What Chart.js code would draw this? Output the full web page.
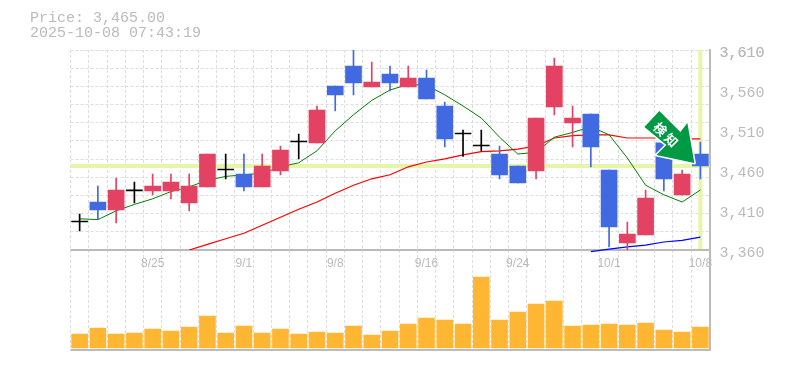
<!DOCTYPE html>
<html>
<head>
<meta charset="utf-8">
<title>Price chart</title>
<script src="https://cdn.jsdelivr.net/npm/chart.js@4/dist/chart.umd.min.js"></script>
<style>
  html, body { margin: 0; padding: 0; background: #fff; }
  #wrap { position: relative; width: 785px; height: 370px; overflow: hidden; }
  #head { position: absolute; left: 30px; top: 11px; font: 15px/15px "Liberation Mono", monospace; color: #bbb; white-space: pre; }
</style>
</head>
<body>
<div id="wrap">
  <div id="head">Price: 3,465.00
2025-10-08 07:43:19</div>
  <canvas id="priceChart" width="785" height="370"></canvas>
</div>
<script>
const dates = ['8/19','8/20','8/21','8/22','8/25','8/26','8/27','8/28','8/29','9/1','9/2','9/3','9/4','9/5','9/8','9/9','9/10','9/11','9/12','9/16','9/17','9/18','9/19','9/22','9/24','9/25','9/26','9/29','9/30','10/1','10/2','10/3','10/6','10/7','10/8'];
const shownDates = ['8/25','9/1','9/8','9/16','9/24','10/1','10/8'];
const priceTicks = [3360,3410,3460,3510,3560,3610];

const open  = [3395,3420,3410,3434,3434,3434,3419,3439,3460,3455,3439,3459,3495,3494,3565,3590,3564,3580,3564,3575,3540,3505,3490,3480,3465,3459,3539,3519,3530,3460,3369,3379,3494,3429,3480];
const close = [3395,3410,3435,3434,3440,3445,3440,3480,3460,3439,3465,3485,3495,3535,3554,3569,3570,3569,3575,3549,3499,3505,3490,3454,3444,3525,3590,3525,3489,3389,3380,3425,3449,3455,3465];
const high  = [3405,3440,3450,3445,3455,3455,3455,3480,3480,3480,3480,3490,3505,3540,3565,3610,3595,3590,3590,3585,3545,3510,3510,3490,3465,3525,3600,3540,3530,3460,3395,3435,3494,3460,3495];
const low   = [3384,3398,3394,3419,3429,3424,3409,3439,3449,3434,3439,3454,3474,3494,3534,3554,3564,3559,3564,3549,3489,3477,3484,3449,3444,3449,3529,3489,3464,3364,3359,3379,3434,3429,3449];

const ma5  = [3399,3398,3409,3417,3424,3433,3439,3447,3452,3454,3456,3464,3469,3484,3509,3529,3547,3560,3567,3566,3554,3540,3525,3501,3480,3482,3501,3507,3514,3504,3475,3441,3429,3420,3435];
const ma25 = [null,null,null,null,null,null,3360,3367,3374,3381,3391,3401,3411,3420,3431,3441,3449,3454,3464,3470,3474,3479,3483,3484,3486,3490,3500,3503,3504,3504,3500,3500,3500,3499,3499];
const ma75 = [null,null,null,null,null,null,null,null,null,null,null,null,null,null,null,null,null,null,null,null,null,null,null,null,null,null,null,null,3358,3361,3364,3366,3370,3372,3376];
const volume = [14,20,14,15,19,17,21,32,15,22,15,19,14,16,15,22,13,17,24,30,28,24,71,28,36,44,47,22,23,24,23,25,18,16,21];
const lastPrice = 3465;

const UP = '#e44262', DOWN = '#4169e1', DOJI = '#000000';
const GRID = '#dddddd', AXIS = '#bbbbbb', MARK_LINE = '#e6f5a8', ARROW = '#009944';

// gridlines split the price range in 11, the labels sit every 50 on top of that
const gridValues = [];
for (let i = 1; i <= 11; i++) gridValues.push(3360 + i * 250 / 11);

function candleColor(i) {
    if (open[i] === close[i]) return DOJI;
    return close[i] > open[i] ? UP : DOWN;
}
const colors = dates.map((d, i) => candleColor(i));

// current price cross and the panel frame, behind the candles
const backdrop = {
    id: 'backdrop',
    beforeDatasetsDraw(chart) {
        const { ctx, chartArea, scales } = chart;
        const y = scales.price.getPixelForValue(lastPrice);
        const x = scales.x.getPixelForValue(dates.length - 1);
        ctx.save();
        ctx.fillStyle = MARK_LINE;
        ctx.fillRect(chartArea.left, y - 2, chartArea.right - chartArea.left, 4);
        ctx.fillRect(x - 2, chartArea.top, 4, scales.price.bottom - chartArea.top);
        ctx.fillStyle = AXIS;
        ctx.fillRect(chartArea.left, scales.price.bottom - 1, chartArea.right - chartArea.left, 2);
        ctx.fillRect(chartArea.left, chartArea.bottom - 1, chartArea.right - chartArea.left, 2);
        ctx.restore();
    }
};

// green signal arrow pointing at the last candle
const signalArrow = {
    id: 'signalArrow',
    afterDatasetsDraw(chart) {
        const { ctx, scales } = chart;
        const tipX = scales.x.getPixelForValue(dates.length - 1) - 6;
        const tipY = scales.price.getPixelForValue(lastPrice) - 3;
        const outline = [[-35,-52],[-50,-36],[-28,-18],[-38,-8],[0,0],[-7,-40],[-14,-31]];
        ctx.save();
        ctx.translate(tipX, tipY);
        ctx.beginPath();
        outline.forEach((p, i) => i ? ctx.lineTo(p[0], p[1]) : ctx.moveTo(p[0], p[1]));
        ctx.closePath();
        ctx.lineJoin = 'round';
        ctx.lineWidth = 3;
        ctx.strokeStyle = '#ffffff';
        ctx.stroke();
        ctx.fillStyle = ARROW;
        ctx.fill();
        ctx.fillStyle = '#ffffff';
        ctx.font = 'bold 13px "Noto Sans CJK JP"';
        ctx.textAlign = 'center';
        ctx.textBaseline = 'middle';
        [['検', -34, -34], ['知', -23, -23]].forEach(t => {
            ctx.save();
            ctx.translate(t[1], t[2]);
            ctx.rotate(Math.PI / 4);
            ctx.fillText(t[0], 0, 0);
            ctx.restore();
        });
        ctx.restore();
    }
};

new Chart(document.getElementById('priceChart'), {
    type: 'bar',
    data: {
        labels: dates,
        datasets: [
            { label: 'Body', data: dates.map((d, i) => [open[i], close[i]]), backgroundColor: colors, barThickness: 16, minBarLength: 1, yAxisID: 'price', grouped: false, order: 1 },
            { label: 'Wick', data: dates.map((d, i) => [low[i], high[i]]), backgroundColor: colors, barThickness: 1, yAxisID: 'price', grouped: false, order: 2 },
            { type: 'line', label: 'MA5', data: ma5, borderColor: '#008000', borderWidth: 1, pointRadius: 0, yAxisID: 'price', order: 3 },
            { type: 'line', label: 'MA25', data: ma25, borderColor: '#ff0000', borderWidth: 1.2, pointRadius: 0, yAxisID: 'price', order: 3 },
            { type: 'line', label: 'MA75', data: ma75, borderColor: '#0000ff', borderWidth: 1.2, pointRadius: 0, yAxisID: 'price', order: 3, clip: false },
            { label: 'Volume', data: volume, backgroundColor: '#ffb733', barThickness: 16, yAxisID: 'volume', grouped: false, order: 4 }
        ]
    },
    options: {
        responsive: false,
        animation: false,
        layout: { padding: { left: 70.5, right: 0.5, top: 50, bottom: 20 } },
        plugins: { legend: { display: false }, tooltip: { enabled: false } },
        scales: {
            x: {
                offset: true,
                afterFit(scale) {
                    // labels live inside the volume panel, so the axis takes no room
                    scale.height = 0;
                    scale.paddingLeft = 0;
                    scale.paddingRight = 0;
                },
                grid: { color: GRID, drawTicks: false },
                border: { display: false, dash: [3, 2] },
                ticks: {
                    autoSkip: false, maxRotation: 0, mirror: true, padding: 79, color: AXIS,
                    font: { family: '"Liberation Sans", sans-serif', size: 12 },
                    callback(v, i) { return shownDates.includes(dates[i]) ? dates[i] : ''; }
                }
            },
            price: {
                position: 'right', stack: 'panels', stackWeight: 2,
                min: 3360, max: 3610,
                afterFit(scale) { scale.width = 75; },
                afterBuildTicks(scale) {
                    scale.ticks = priceTicks.concat(gridValues).map(v => ({ value: v }));
                },
                grid: {
                    drawTicks: false,
                    color(c) { return gridValues.includes(c.tick.value) ? GRID : 'transparent'; }
                },
                border: { color: AXIS, width: 2, dash: [3, 2] },
                ticks: {
                    autoSkip: false, padding: 10, labelOffset: 3, color: AXIS, crossAlign: 'near',
                    font: { family: '"Liberation Mono", monospace', size: 15 },
                    callback(v) { return priceTicks.includes(v) ? v.toLocaleString('en-US') : ''; }
                }
            },
            volume: {
                position: 'right', stack: 'panels', stackWeight: 1,
                min: -2, max: 98,
                afterFit(scale) { scale.width = 75; },
                grid: { display: false },
                border: { color: AXIS, width: 2 },
                ticks: { display: false }
            }
        }
    },
    plugins: [backdrop, signalArrow]
});
</script>
</body>
</html>
